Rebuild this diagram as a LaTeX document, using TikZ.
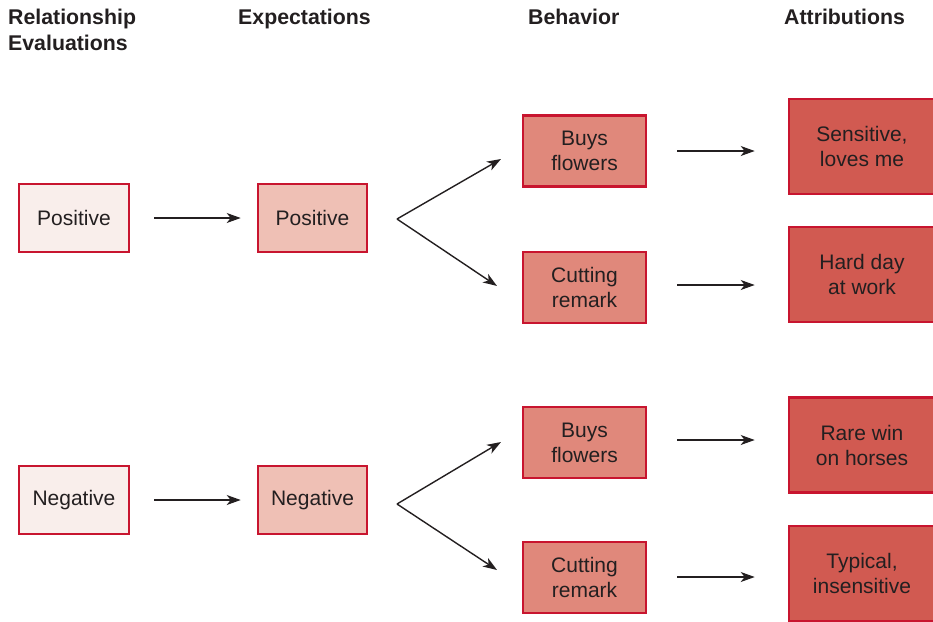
\documentclass[tikz,border=0pt]{standalone}
\usepackage{fontspec}
\setmainfont{Liberation Sans}
\usetikzlibrary{arrows.meta}

\definecolor{edgered}{HTML}{C8152F}
\definecolor{inkdark}{HTML}{231F20}
\definecolor{fillA}{HTML}{F9EEEB}
\definecolor{fillB}{HTML}{EFC0B5}
\definecolor{fillC}{HTML}{E0887B}
\definecolor{fillD}{HTML}{D15A51}

\tikzset{
  box/.style={draw=edgered, line width=2.6pt, text=inkdark, align=center,
    inner sep=0pt, font=\fontsize{21}{25}\selectfont},
  evalbox/.style={box, fill=fillA, minimum width=110pt, minimum height=68pt},
  expbox/.style={box, fill=fillB, minimum width=109pt, minimum height=68pt},
  behbox/.style={box, fill=fillC, minimum width=123pt, minimum height=71pt},
  attbox/.style={box, fill=fillD, minimum width=146pt, minimum height=95pt},
  header/.style={anchor=north west, align=left, inner sep=0pt, text=inkdark,
    font=\bfseries\fontsize{21.3}{26}\selectfont},
  link/.style={draw=inkdark, line width=1.4pt,
    -{Stealth[length=14pt, width=10pt, inset=4pt]}}
}

\begin{document}
\begin{tikzpicture}[x=1pt, y=-1pt]
  \useasboundingbox (0,0) rectangle (933,621);

  % column headings
  \node[header] (h1) at (8,9) {Relationship\\Evaluations};
  \node[header] (h2) at (238,9) {Expectations};
  \node[header] (h3) at (528,9) {Behavior};
  \node[header] (h4) at (784,9) {Attributions};

  % upper chain
  \node[evalbox] (ev1) at (74,218) {Positive};
  \node[expbox]  (ex1) at (312.5,218) {Positive};
  \node[behbox]  (b1)  at (584.5,151) {Buys\\flowers};
  \node[behbox]  (b2)  at (584.5,287.5) {Cutting\\remark};
  \node[attbox]  (a1)  at (862,146.5) {Sensitive,\\loves me};
  \node[attbox]  (a2)  at (862,274.5) {Hard day\\at work};

  % lower chain
  \node[evalbox] (ev2) at (74,500) {Negative};
  \node[expbox]  (ex2) at (312.5,500) {Negative};
  \node[behbox]  (b3)  at (584.5,442.5) {Buys\\flowers};
  \node[behbox]  (b4)  at (584.5,577.5) {Cutting\\remark};
  \node[attbox]  (a3)  at (862,445) {Rare win\\on horses};
  \node[attbox]  (a4)  at (862,573.5) {Typical,\\insensitive};

  % fork points and tips
  \coordinate (f1) at (397,219);
  \coordinate (t1) at (501,159);
  \coordinate (t2) at (497,286);
  \coordinate (f2) at (397,504);
  \coordinate (t3) at (501,442);
  \coordinate (t4) at (497,570);

  % connectors
  \draw[link, shorten <=24pt, shorten >=16pt] (ev1.east) -- (ex1.west);
  \draw[link, shorten <=24pt, shorten >=16pt] (ev2.east) -- (ex2.west);
  \draw[link] (f1) -- (t1);
  \draw[link] (f1) -- (t2);
  \draw[link] (f2) -- (t3);
  \draw[link] (f2) -- (t4);
  \draw[link, shorten <=30pt, shorten >=33pt] (b1.east) -- (b1.east -| a1.west);
  \draw[link, shorten <=30pt, shorten >=33pt] (b2.east |- 0,285) -- (a2.west |- 0,285);
  \draw[link, shorten <=30pt, shorten >=33pt] (b3.east |- 0,440) -- (a3.west |- 0,440);
  \draw[link, shorten <=30pt, shorten >=33pt] (b4.east |- 0,577) -- (a4.west |- 0,577);
\end{tikzpicture}
\end{document}
